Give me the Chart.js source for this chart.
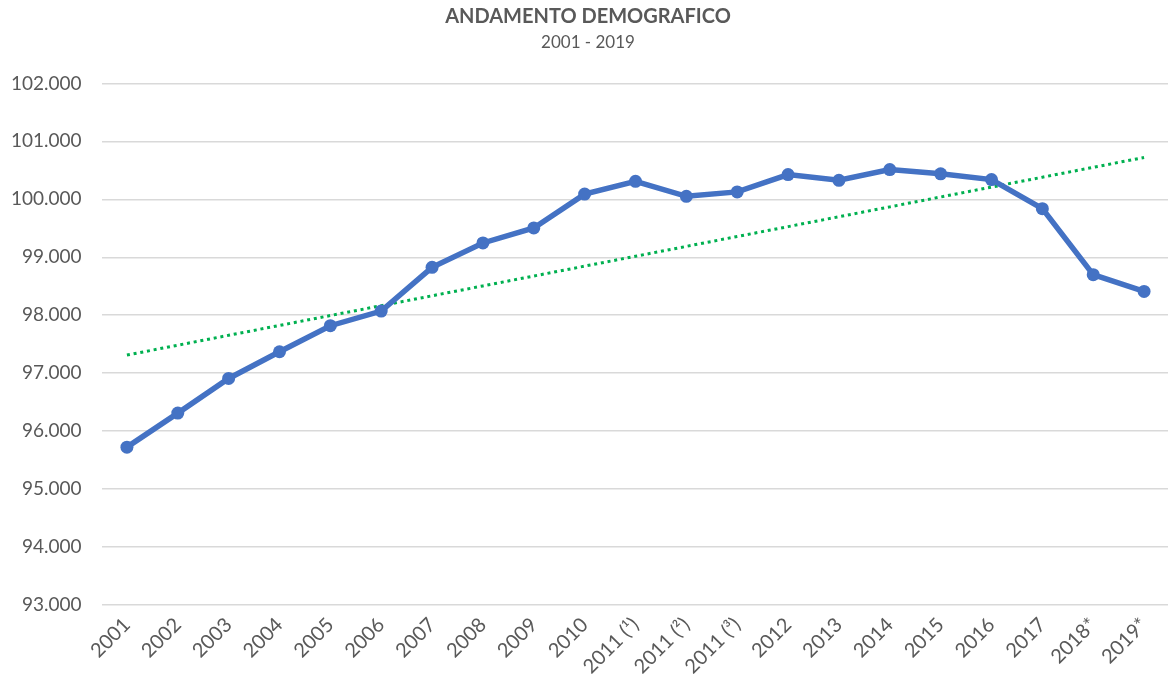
<!DOCTYPE html>
<html>
<head>
<meta charset="utf-8">
<script src="https://cdn.jsdelivr.net/npm/chart.js@4/dist/chart.umd.min.js"></script>
<style>
  html, body { margin: 0; padding: 0; background: #fff; overflow: hidden; }
  #wrap { width: 1176px; height: 682px; }
</style>
</head>
<body>
<div id="wrap"><canvas id="popChart"></canvas></div>
<script>
const years = ['2001', '2002', '2003', '2004', '2005', '2006', '2007', '2008', '2009', '2010',
    '2011 (¹)', '2011 (²)', '2011 (³)', '2012', '2013', '2014', '2015', '2016', '2017', '2018*', '2019*'];
const population = [95724, 96311, 96909, 97370, 97819, 98072, 98826, 99247, 99506, 100090,
    100311, 100052, 100128, 100427, 100328, 100513, 100440, 100340, 99839, 98699, 98411];
const yTicks = { min: 93000, max: 102000, step: 1000 };

// linear trendline (least squares) over the series, like Excel's
function linearTrend(values) {
    const n = values.length;
    const mx = (n - 1) / 2;
    const my = values.reduce((a, b) => a + b, 0) / n;
    let sxy = 0, sxx = 0;
    values.forEach((v, i) => { sxy += (i - mx) * (v - my); sxx += (i - mx) * (i - mx); });
    const slope = sxy / sxx;
    return values.map((v, i) => my + slope * (i - mx));
}

const grey = '#595959';
const fontFamily = 'Lato, "Open Sans", sans-serif';

const ctx = document.getElementById('popChart').getContext('2d');
new Chart(ctx, {
    type: 'line',
    data: {
        labels: years,
        datasets: [{
            label: 'Popolazione',
            data: population,
            borderColor: '#4472C4',
            backgroundColor: '#4472C4',
            borderWidth: 5.5,
            pointRadius: 6.5,
            pointBorderWidth: 0,
            pointBackgroundColor: '#4472C4',
            tension: 0,
            order: 1
        }, {
            label: 'Tendenza',
            data: linearTrend(population),
            borderColor: '#00B050',
            borderWidth: 3,
            borderDash: [3, 3.8],
            pointRadius: 0,
            fill: false,
            order: 2
        }]
    },
    options: {
        responsive: true,
        maintainAspectRatio: false,
        animation: false,
        plugins: {
            legend: { display: false },
            tooltip: { enabled: false },
            title: {
                display: true,
                text: 'ANDAMENTO DEMOGRAFICO',
                color: grey,
                font: { family: fontFamily, size: 20, weight: 'bold' },
                padding: { top: 5, bottom: 3 }
            },
            subtitle: {
                display: true,
                text: '2001 - 2019',
                color: grey,
                font: { family: fontFamily, size: 17 },
                padding: { top: 0, bottom: 31 }
            }
        },
        scales: {
            x: {
                offset: true,
                grid: { display: false, drawTicks: false },
                border: { display: false },
                ticks: {
                    color: grey,
                    font: { family: fontFamily, size: 20 },
                    minRotation: 45,
                    maxRotation: 45,
                    autoSkip: false,
                    padding: 8
                },
                afterFit: scale => { scale.height = 77; }
            },
            y: {
                min: yTicks.min,
                max: yTicks.max,
                grid: { color: '#D9D9D9', lineWidth: 1.5, drawTicks: false },
                border: { display: false },
                ticks: {
                    stepSize: yTicks.step,
                    color: grey,
                    font: { family: fontFamily, size: 19 },
                    padding: 20,
                    callback: v => Math.round(v / 1000) + '.000'
                },
                afterFit: scale => { scale.width = 101.5; }
            }
        }
    }
});
</script>
</body>
</html>
